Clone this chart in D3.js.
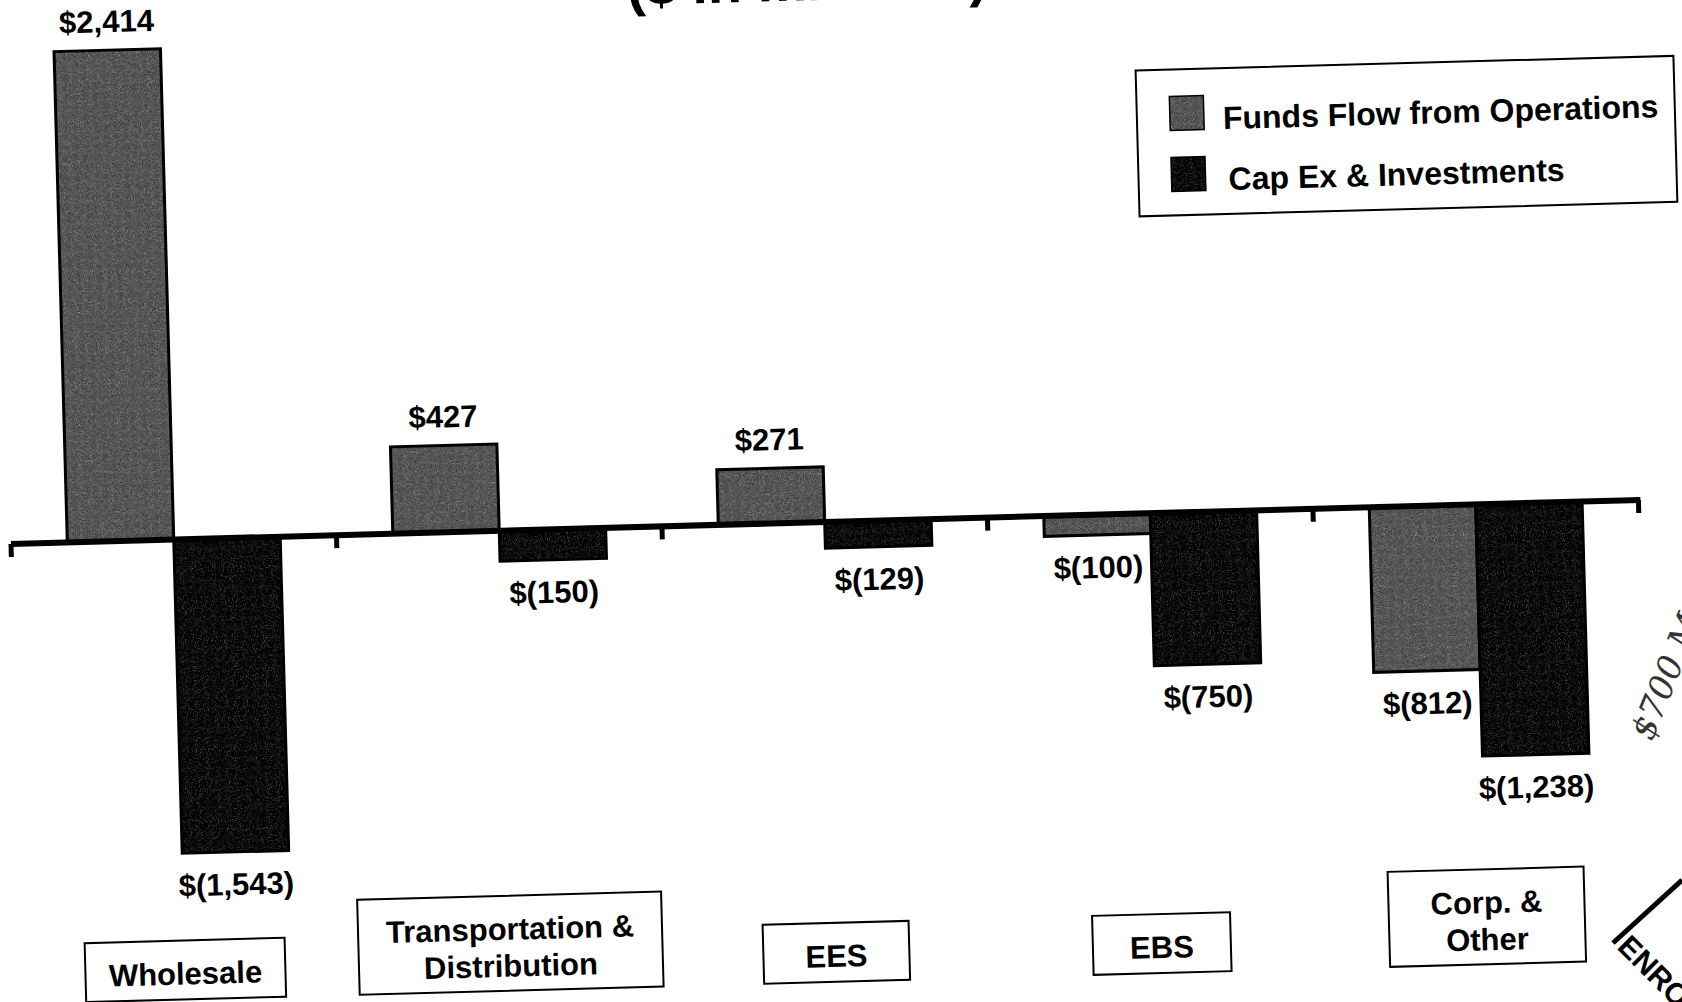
<!DOCTYPE html>
<html>
<head>
<meta charset="utf-8">
<script src="https://cdn.jsdelivr.net/npm/d3@7"></script>
<style>
  body { margin: 0; background: #fff; }
  text { font-family: "Liberation Sans", Arial, sans-serif; font-weight: bold; fill: #000; }
</style>
</head>
<body>
<svg id="chart" width="1682" height="1002"></svg>
<script>
// data ($ in millions)
var categories = ["Wholesale", "Transportation & Distribution", "EES", "EBS", "Corp. & Other"];
var categoryLines = [["Wholesale"], ["Transportation &", "Distribution"], ["EES"], ["EBS"], ["Corp. &", "Other"]];
var seriesNames = ["Funds Flow from Operations", "Cap Ex & Investments"];
var fundsFlow = [2414, 427, 271, -100, -812];
var capEx = [-1543, -150, -129, -750, -1238];

// layout of the hand placed label boxes
var boxWidths = [200, 304, 146, 138, 196];

var svg = d3.select("#chart");

// the scan is tilted a little, so the whole chart gets rotated
var tilt = -1.55, ox = 11, oy = 544;

var defs = svg.append("defs");
var grain = defs.append("filter").attr("id", "grain")
    .attr("color-interpolation-filters", "sRGB");
grain.append("feTurbulence").attr("type", "fractalNoise")
    .attr("baseFrequency", 0.9).attr("numOctaves", 2).attr("seed", 4).attr("result", "noise");
grain.append("feColorMatrix").attr("in", "noise").attr("type", "saturate")
    .attr("values", 0).attr("result", "mono");
grain.append("feComposite").attr("in", "SourceGraphic").attr("in2", "mono")
    .attr("operator", "arithmetic").attr("k1", 0).attr("k2", 1).attr("k3", 1.1).attr("k4", -0.55)
    .attr("result", "mix");
grain.append("feComposite").attr("in", "mix").attr("in2", "SourceAlpha").attr("operator", "in");

var g = svg.append("g")
    .attr("transform", "rotate(" + tilt + "," + ox + "," + oy + ")");

// scales
var x0 = d3.scaleBand().domain(categories).range([11, 1639])
    .paddingInner(0.346).paddingOuter(0.173);
var x1 = d3.scaleBand().domain(seriesNames).range([0, x0.bandwidth()]);
var y = d3.scaleLinear().domain([0, 2414]).range([544, 53]);
var color = d3.scaleOrdinal().domain(seriesNames).range(["#8f8f8f", "#181818"]);

var fmt = d3.format(",");
function money(v) { return v < 0 ? "$(" + fmt(-v) + ")" : "$" + fmt(v); }

var data = categories.map(function(c, i) {
  return { cat: c, values: [
    { key: seriesNames[0], v: fundsFlow[i] },
    { key: seriesNames[1], v: capEx[i] }
  ]};
});

// title (mostly cut off at the top of the scan)
g.append("text")
    .attr("x", 822).attr("y", 22)
    .attr("text-anchor", "middle")
    .style("font-size", "56px")
    .text("($ in millions)");

// bars
var groups = g.selectAll(".cat")
    .data(data)
  .enter().append("g")
    .attr("class", "cat")
    .attr("transform", function(d) { return "translate(" + x0(d.cat) + ",0)"; });

var bars = groups.selectAll(".bar")
    .data(function(d) { return d.values; })
  .enter();

bars.append("rect")
    .attr("x", function(d) { return x1(d.key); })
    .attr("y", function(d) { return y(Math.max(0, d.v)); })
    .attr("width", x1.bandwidth())
    .attr("height", function(d) { return Math.abs(y(d.v) - y(0)); })
    .style("fill", function(d) { return color(d.key); })
    .attr("filter", "url(#grain)");

bars.append("rect")
    .attr("x", function(d) { return x1(d.key); })
    .attr("y", function(d) { return y(Math.max(0, d.v)); })
    .attr("width", x1.bandwidth())
    .attr("height", function(d) { return Math.abs(y(d.v) - y(0)); })
    .style("fill", "none")
    .style("stroke", "#000")
    .style("stroke-width", 3);

// value labels
bars.append("text")
    .attr("x", function(d) { return x1(d.key) + x1.bandwidth() / 2; })
    .attr("y", function(d) { return d.v >= 0 ? y(d.v) - 18 : y(d.v) + 43; })
    .attr("text-anchor", "middle")
    .style("font-size", "31px")
    .text(function(d) { return money(d.v); });

// zero line with ticks between the categories
var step = x0.step(), edge = step * x0.paddingOuter();
var tickPos = categories.map(function(c) { return x0(c) - edge; });
tickPos.push(x0.range()[1]);

g.append("line")
    .attr("x1", x0.range()[0]).attr("x2", x0.range()[1] + 2)
    .attr("y1", y(0)).attr("y2", y(0))
    .style("stroke", "#000").style("stroke-width", 6);

g.selectAll(".tick")
    .data(tickPos)
  .enter().append("rect")
    .attr("class", "tick")
    .attr("x", function(d) { return d - 2.5; })
    .attr("y", y(0))
    .attr("width", 5).attr("height", 13)
    .style("fill", "#000");

// category boxes
var boxBottom = 1004;
var cats = g.selectAll(".catlabel")
    .data(categories)
  .enter().append("g")
    .attr("class", "catlabel")
    .attr("transform", function(d) { return "translate(" + (x0(d) + x0.bandwidth() / 2) + ",0)"; });

cats.append("rect")
    .attr("x", function(d, i) { return -boxWidths[i] / 2; })
    .attr("y", function(d, i) { return boxBottom - (categoryLines[i].length > 1 ? 95 : 59); })
    .attr("width", function(d, i) { return boxWidths[i]; })
    .attr("height", function(d, i) { return categoryLines[i].length > 1 ? 95 : 59; })
    .style("fill", "#fff").style("stroke", "#000").style("stroke-width", 2);

cats.each(function(d, i) {
  var lines = categoryLines[i];
  var top = boxBottom - (lines.length > 1 ? 95 : 59);
  d3.select(this).selectAll("text")
      .data(lines)
    .enter().append("text")
      .attr("x", 0)
      .attr("y", function(t, j) { return top + 44 + j * 37; })
      .attr("text-anchor", "middle")
      .style("font-size", "31px")
      .text(function(t) { return t; });
});

// legend
var legend = g.append("g").attr("transform", "translate(1148,101)");
legend.append("rect")
    .attr("width", 538).attr("height", 146)
    .style("fill", "#fff").style("stroke", "#000").style("stroke-width", 2);

var items = legend.selectAll(".legend")
    .data(seriesNames)
  .enter().append("g")
    .attr("class", "legend")
    .attr("transform", function(d, i) { return "translate(0," + i * 61 + ")"; });

items.append("rect")
    .attr("x", 33).attr("y", 27)
    .attr("width", 34).attr("height", 34)
    .style("fill", color)
    .attr("filter", "url(#grain)");

items.append("rect")
    .attr("x", 33).attr("y", 27)
    .attr("width", 34).attr("height", 34)
    .style("fill", "none").style("stroke", "#000").style("stroke-width", 1.5);

items.append("text")
    .attr("x", function(d, i) { return 86 + i * 4; })
    .attr("y", 61)
    .style("font-size", "32px")
    .text(function(d) { return d; });

// hand written note and stamp on the scan
svg.append("text")
    .attr("transform", "translate(1652,742) rotate(-68)")
    .style("font-family", "'DejaVu Serif', serif")
    .style("font-style", "italic")
    .style("font-weight", "normal")
    .style("font-size", "34px")
    .style("fill", "#333")
    .text("$700 M");

svg.append("line")
    .attr("x1", 1613).attr("y1", 943).attr("x2", 1682).attr("y2", 880)
    .style("stroke", "#000").style("stroke-width", 5);

svg.append("text")
    .attr("transform", "translate(1616,948) rotate(45)")
    .style("font-size", "30px")
    .text("ENRON");
</script>
</body>
</html>
